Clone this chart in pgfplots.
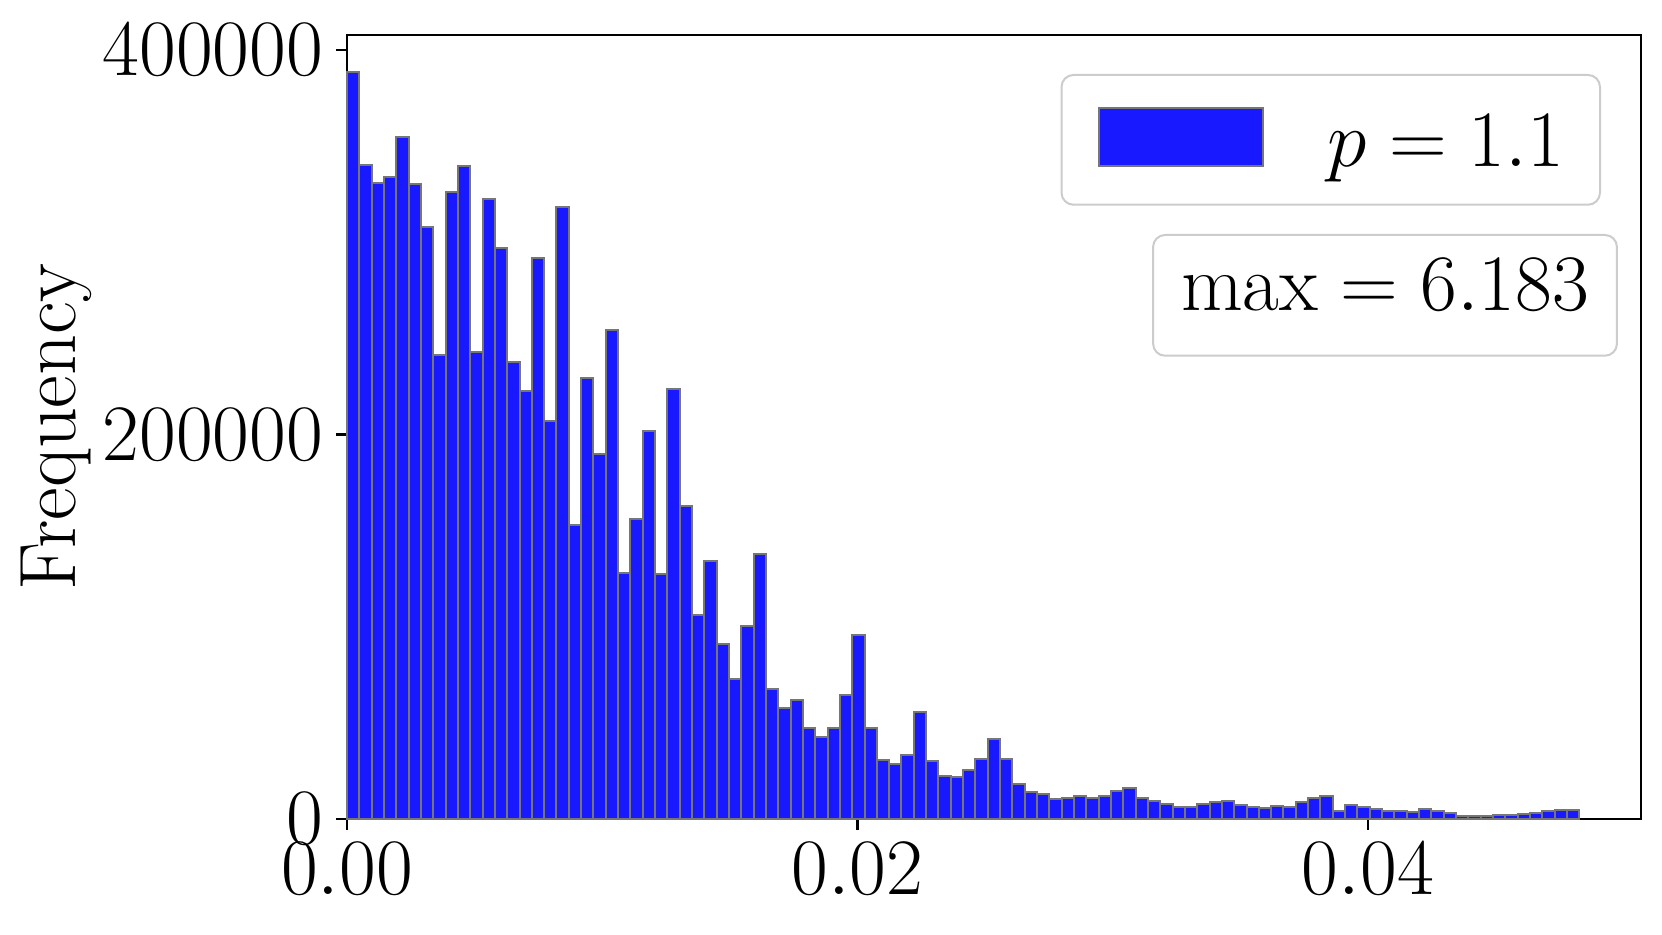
\RequirePackage{fix-cm}
\documentclass[border=0pt]{standalone}
\usepackage{fontspec}
\usepackage{pgfplots}
\pgfplotsset{compat=1.18}

\definecolor{barblue}{RGB}{25,25,255}
\definecolor{edgegray}{RGB}{118,118,118}
\definecolor{boxgray}{RGB}{204,204,204}

% bin left edges and counts, the last row only closes the final bin
\pgfplotstableread{
x y
0 388500
0.0004828 340400
0.0009656 331000
0.0014484 333900
0.0019312 355000
0.002414 330200
0.0028968 308000
0.0033796 241600
0.0038624 326300
0.0043452 339600
0.004828 242900
0.0053108 322400
0.0057936 297300
0.0062764 237900
0.0067592 222500
0.007242 291800
0.0077248 207300
0.0082076 318200
0.0086904 153200
0.0091732 229300
0.009656 189800
0.0101388 254400
0.0106216 128100
0.0111044 156300
0.0115872 202000
0.01207 127500
0.0125528 223600
0.0130356 162800
0.0135184 106000
0.0140012 134200
0.014484 91000
0.0149668 72800
0.0154496 100200
0.0159324 137700
0.0164152 67500
0.016898 57800
0.0173808 61900
0.0178636 47300
0.0183464 42500
0.0188292 47300
0.019312 64400
0.0197948 95800
0.0202776 47300
0.0207604 30900
0.0212432 28400
0.021726 33200
0.0222088 55700
0.0226916 30200
0.0231744 22200
0.0236572 21700
0.02414 25700
0.0246228 31000
0.0251056 41800
0.0255884 31000
0.0260712 18300
0.026554 14300
0.0270368 13000
0.0275196 10400
0.0280024 10800
0.0284852 11800
0.028968 11100
0.0294508 11800
0.0299336 14600
0.0304164 16200
0.0308992 11100
0.031382 9200
0.0318648 7700
0.0323476 6400
0.0328304 6400
0.0333132 7800
0.033796 8700
0.0342788 9400
0.0347616 7300
0.0352444 6100
0.0357272 5600
0.03621 6700
0.0366928 6100
0.0371756 8700
0.0376584 11000
0.0381412 11800
0.038624 4000
0.0391068 7300
0.0395896 6400
0.0400724 5200
0.0405552 4200
0.041038 4200
0.0415208 3800
0.0420036 5200
0.0424864 4300
0.0429692 3000
0.043452 1700
0.0439348 1400
0.0444176 1400
0.0449004 1900
0.0453832 1900
0.045866 2400
0.0463488 3000
0.0468316 4200
0.0473144 4700
0.0477972 4700
0.04828 4700
}\histdata

\begin{document}
\begin{tikzpicture}[font=\fontsize{20}{24}\selectfont]
\path[use as bounding box] (-86.75pt,-28.75pt) rectangle (328.75pt,204.75pt);
\begin{axis}[
    scale only axis,
    width=323.5pt,
    height=196pt,
    xmin=0, xmax=0.0507,
    ymin=0, ymax=407900,
    scaled x ticks=false,
    scaled y ticks=false,
    xtick={0,0.02,0.04},
    xticklabels={$0.00$,$0.02$,$0.04$},
    ytick={0,200000,400000},
    yticklabels={$0$,$200000$,$400000$},
    tick pos=left,
    tick align=outside,
    major tick length=2.8pt,
    every tick/.style={black, line width=0.6pt},
    axis line style={line width=0.6pt},
    tick label style={inner sep=0pt},
    xticklabel shift=3pt,
    yticklabel shift=3pt,
    ylabel={Frequency},
    ylabel style={at={(axis description cs:-0.2245,0.5)}, anchor=center, inner sep=0pt},
    legend style={at={(axis description cs:0.9691,0.9503)}, anchor=north east,
        draw=boxgray, line width=0.5pt, rounded corners=3pt,
        inner xsep=9pt, inner ysep=8pt, column sep=16pt,
        nodes={inner sep=0pt}},
    clip=false,
]
\addplot[ybar interval, fill=barblue, draw=edgegray, line width=0.5pt,
    legend image code/.code={\draw[sharp corners, fill=barblue, draw=edgegray, line width=0.5pt] (0pt,-5.6pt) rectangle (41pt,9pt);}]
    table[x=x, y=y] {\histdata};
\addlegendentry{$p = 1.1$}
\node[draw=boxgray, line width=0.5pt, rounded corners=3pt, fill=white,
      inner xsep=7pt, inner ysep=6pt, text depth=5.3pt, anchor=north east]
    at (axis description cs:0.9822,0.7462) {$\max = 6.183$};
\end{axis}
\end{tikzpicture}
\end{document}
